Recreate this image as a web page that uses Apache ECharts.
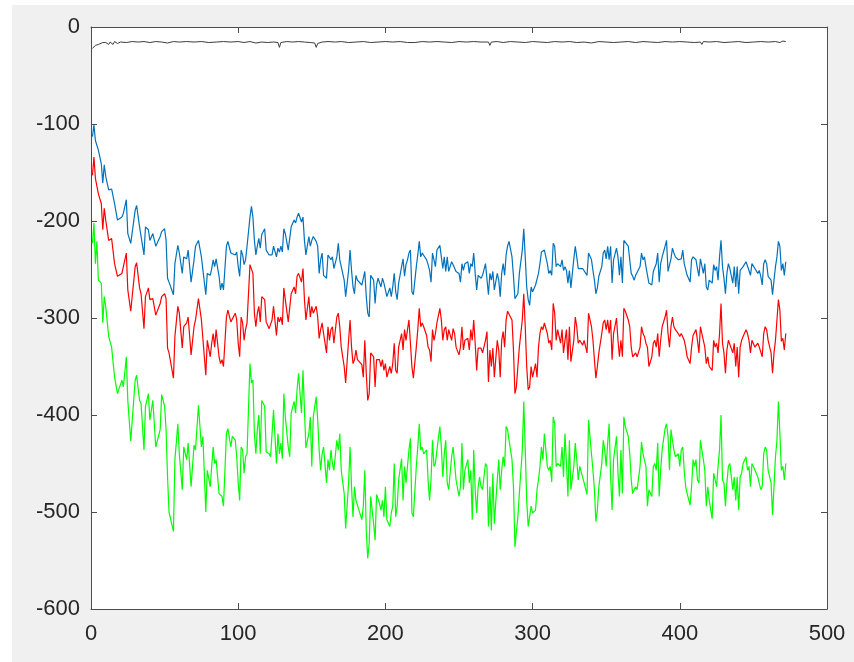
<!DOCTYPE html>
<html>
<head>
<meta charset="utf-8">
<script src="https://cdn.jsdelivr.net/npm/echarts@6/dist/echarts.min.js"></script>
<style>
  html, body { margin: 0; background: #ffffff; }
  #fig { position: absolute; left: 12px; top: 5px; width: 842px; height: 657px; background: #f0f0f0; }
</style>
</head>
<body>
<div id="fig"></div>
<script>
// Sample indices shared by the three noisy traces
const sampleIdx = [
  1,2,3,4,5,7,8,9,10,12,14,16,18,21,22,24,25,27,30,31,33,34,36,37,39,40,42,44,47,48,50,51,52,53,56,57,59,60,62,63,65,66,68,70,71,73,75,76,78,79,81,82,83,
  84,85,87,88,89,90,92,93,95,96,98,99,100,101,102,103,104,105,106,108,109,110,111,112,113,114,115,116,118,119,121,122,123,124,126,127,128,129,130,131,132,134,135,136,138,139,140,141,143,144,145,146,148,149,150,151,153,154,155,156,157,158,160,161,162,163,164,165,
  167,168,169,170,172,173,175,176,177,178,179,180,181,182,184,185,186,187,188,189,190,192,193,194,195,196,197,198,199,200,201,203,204,205,206,207,208,209,211,212,213,214,215,216,217,218,219,221,222,223,224,225,226,228,229,230,231,232,233,234,235,237,238,239,240,241,242,243,245,246,247,248,
  250,251,252,253,254,256,257,258,259,260,261,262,263,264,265,266,268,269,270,271,272,273,274,276,277,278,279,280,281,282,283,284,286,287,288,289,290,291,293,294,295,296,297,298,299,300,302,303,304,305,306,307,308,310,311,312,313,314,315,316,317,319,320,321,322,323,324,325,326,328,329,330,331,
  332,334,335,337,338,340,341,342,343,344,345,347,348,349,350,351,352,353,354,355,357,358,359,360,361,362,363,365,366,367,368,369,370,371,373,374,375,376,377,378,379,381,382,383,384,385,386,387,388,390,391,392,393,394,395,396,397,399,400,401,402,403,404,405,407,408,409,410,411,412,413,414,
  415,416,417,418,419,420,422,423,424,425,426,427,428,429,430,431,432,433,434,436,437,438,439,440,441,442,443,445,446,447,448,449,450,451,453,454,455,456,457,458,459,460,462,463,464,465,466,467,468,469,470,471,472
];

const blueVals = [
  -113,-101,-117,-116,-127,-141,-161,-142,-154,-168,-167,-182,-199,-196,-192,-178,-213,-223,-189,-184,-206,-204,-235,-206,-209,-220,-213,-226,-216,-211,-208,-220,-259,-263,-276,-244,-225,-233,-254,-237,-239,-230,-263,-240,-226,-220,-237,-235,-276,-254,-256,-249,-240,
  -247,-239,-257,-271,-264,-271,-226,-221,-233,-232,-235,-232,-247,-257,-230,-235,-245,-240,-226,-196,-185,-196,-220,-235,-226,-218,-228,-214,-208,-230,-235,-233,-235,-226,-237,-228,-232,-226,-232,-208,-213,-230,-232,-206,-199,-202,-196,-192,-201,-196,-220,-235,-216,-226,-220,-216,-221,-226,-254,-240,-233,-256,-259,-235,-237,-240,-237,-249,
  -237,-223,-240,-247,-261,-278,-251,-230,-251,-268,-275,-256,-261,-263,-266,-268,-252,-278,-295,-299,-256,-261,-285,-266,-259,-261,-268,-259,-264,-263,-278,-269,-278,-268,-254,-273,-281,-264,-247,-239,-257,-245,-240,-233,-230,-273,-276,-247,-235,-221,-237,-233,-235,-240,-245,-251,-263,-233,-240,-247,-230,-225,-237,-249,-237,-252,-237,-252,-242,-245,-244,-252,
  -254,-263,-244,-251,-244,-242,-254,-244,-247,-233,-254,-271,-256,-257,-259,-256,-244,-242,-276,-254,-261,-252,-271,-254,-261,-278,-254,-244,-256,-235,-226,-221,-237,-257,-280,-281,-275,-254,-230,-208,-237,-268,-281,-287,-268,-273,-266,-268,-254,-244,-232,-233,-230,-244,-254,-251,-256,-223,-226,-247,-244,-247,-240,-251,-247,-251,-264,-251,-269,-239,-226,-237,-249,
  -247,-249,-251,-256,-233,-240,-251,-261,-275,-269,-257,-247,-233,-230,-239,-226,-240,-226,-264,-240,-228,-237,-256,-237,-264,-220,-221,-226,-228,-254,-257,-261,-256,-257,-247,-233,-240,-237,-247,-245,-264,-266,-252,-251,-244,-233,-263,-244,-237,-226,-220,-252,-254,-239,-228,-233,-237,-240,-240,-239,-230,-244,-244,-256,-263,-240,-237,-235,-240,-249,-257,-239,
  -239,-254,-244,-268,-271,-261,-264,-245,-251,-247,-261,-237,-220,-247,-259,-275,-254,-244,-249,-264,-247,-268,-247,-275,-251,-252,-247,-242,-244,-251,-256,-244,-245,-249,-254,-251,-257,-266,-244,-240,-244,-257,-261,-276,-261,-247,-237,-221,-226,-251,-244,-256,-242
];

const redVals = [
  -153,-134,-156,-154,-172,-182,-209,-187,-199,-220,-218,-244,-257,-254,-247,-233,-271,-293,-247,-243,-269,-275,-311,-278,-269,-281,-280,-297,-285,-278,-275,-280,-331,-336,-362,-319,-288,-295,-331,-309,-305,-299,-338,-309,-302,-280,-302,-302,-359,-323,-340,-326,-316,
  -330,-312,-340,-347,-343,-350,-299,-292,-304,-302,-295,-302,-326,-340,-299,-305,-323,-312,-305,-245,-245,-254,-295,-309,-295,-288,-304,-278,-281,-304,-311,-309,-302,-288,-318,-299,-304,-299,-307,-269,-281,-304,-305,-275,-268,-275,-257,-254,-263,-249,-281,-302,-278,-299,-288,-295,-288,-299,-321,-312,-305,-316,-336,-309,-323,-312,-309,-326,
  -299,-295,-309,-330,-350,-367,-323,-302,-330,-347,-343,-333,-343,-343,-348,-361,-323,-357,-385,-378,-336,-340,-371,-343,-342,-343,-350,-343,-354,-347,-361,-350,-357,-347,-326,-354,-357,-330,-316,-333,-312,-323,-312,-302,-300,-350,-362,-330,-312,-290,-309,-305,-309,-318,-330,-333,-345,-312,-323,-316,-305,-290,-302,-323,-312,-309,-323,-312,-323,-311,-316,-330,
  -338,-330,-309,-333,-323,-321,-333,-312,-323,-302,-326,-354,-331,-330,-331,-336,-323,-314,-366,-333,-350,-331,-361,-323,-333,-361,-323,-314,-330,-302,-293,-295,-302,-333,-378,-371,-350,-330,-302,-275,-309,-350,-374,-371,-350,-361,-347,-361,-330,-316,-309,-312,-305,-316,-326,-323,-333,-285,-295,-323,-312,-326,-312,-336,-323,-312,-343,-309,-345,-323,-299,-309,-326,
  -323,-328,-323,-336,-295,-309,-323,-343,-362,-350,-336,-316,-305,-302,-312,-302,-316,-302,-343,-316,-300,-323,-340,-323,-340,-290,-293,-302,-309,-330,-340,-342,-336,-340,-330,-309,-316,-319,-326,-330,-350,-340,-326,-323,-330,-316,-340,-323,-309,-299,-292,-316,-330,-309,-299,-309,-312,-316,-319,-316,-316,-323,-330,-340,-347,-330,-318,-319,-312,-323,-336,-309,
  -309,-323,-330,-347,-340,-350,-354,-323,-330,-326,-336,-316,-285,-326,-336,-357,-333,-323,-323,-336,-326,-350,-330,-361,-330,-323,-319,-312,-316,-323,-336,-323,-323,-330,-326,-330,-330,-340,-316,-309,-312,-323,-336,-357,-336,-323,-302,-281,-292,-324,-321,-333,-316
];

const greenVals = [
  -223,-202,-244,-221,-261,-264,-305,-278,-288,-319,-330,-361,-378,-364,-371,-340,-385,-427,-364,-359,-385,-388,-436,-391,-378,-405,-385,-433,-415,-379,-391,-415,-464,-500,-520,-446,-409,-440,-477,-433,-446,-429,-474,-431,-436,-390,-433,-422,-500,-457,-474,-453,-433,
  -450,-446,-481,-482,-484,-494,-419,-414,-433,-422,-426,-443,-470,-488,-433,-436,-460,-443,-440,-347,-367,-364,-419,-440,-415,-400,-440,-385,-391,-438,-440,-443,-445,-395,-450,-419,-440,-429,-445,-378,-402,-433,-443,-398,-386,-398,-374,-357,-398,-354,-352,-434,-419,-402,-453,-402,-381,-405,-436,-457,-440,-433,-470,-446,-457,-436,-450,-457,
  -426,-436,-419,-457,-481,-517,-470,-433,-474,-505,-474,-488,-488,-498,-508,-494,-457,-519,-548,-532,-484,-512,-529,-482,-481,-491,-498,-488,-505,-474,-508,-515,-501,-494,-450,-505,-494,-467,-445,-488,-453,-470,-453,-436,-424,-501,-505,-453,-433,-409,-436,-433,-440,-436,-467,-488,-467,-426,-453,-450,-436,-412,-433,-464,-440,-426,-470,-477,-443,-433,-450,-467,
  -484,-474,-429,-477,-457,-446,-470,-457,-508,-436,-477,-501,-474,-464,-474,-477,-450,-453,-515,-474,-519,-460,-512,-467,-446,-477,-457,-443,-453,-412,-415,-426,-446,-474,-536,-536,-505,-481,-436,-386,-436,-488,-515,-515,-494,-501,-498,-477,-467,-453,-433,-446,-419,-453,-457,-453,-469,-402,-409,-453,-450,-453,-433,-464,-419,-450,-484,-426,-477,-453,-429,-446,-467,
  -453,-464,-470,-482,-405,-440,-457,-477,-510,-498,-474,-450,-426,-436,-453,-429,-409,-464,-498,-446,-422,-460,-484,-436,-481,-402,-412,-422,-440,-467,-481,-477,-474,-477,-453,-428,-440,-440,-453,-494,-477,-484,-453,-450,-457,-429,-484,-457,-436,-414,-409,-422,-457,-415,-426,-436,-443,-440,-453,-436,-433,-457,-474,-481,-493,-474,-446,-453,-446,-467,-470,-426,
  -426,-446,-457,-494,-474,-488,-507,-460,-467,-474,-453,-436,-400,-467,-470,-494,-470,-453,-450,-477,-464,-488,-464,-498,-464,-460,-450,-443,-457,-453,-474,-450,-453,-453,-464,-464,-477,-474,-440,-433,-436,-457,-470,-503,-474,-443,-426,-386,-419,-457,-453,-467,-450
];

// Near-flat reference trace just under zero
const blackIdx = [1,2,3,5,6,8,9,10,12,13,15,16,18,20,24,28,32,36,40,44,48,52,56,60,65,70,75,80,85,90,95,100,104,108,112,116,120,124,127,128,129,133,137,141,145,149,152,153,154,157,161,166,170,175,180,185,190,195,200,205,210,215,220,225,230,235,240,245,250,255,260,265,270,271,272,276,280,285,290,295,300,305,310,315,320,325,330,335,340,345,350,355,360,365,370,375,380,385,390,395,400,405,410,414,415,416,420,425,430,435,440,445,450,455,460,465,468,470,472];
const blackVals = [-22,-21,-19,-18,-17,-16,-18,-16,-18,-15.5,-18,-15,-17,-15.5,-16,-15,-15.5,-15,-16,-15,-15.5,-16.5,-15,-15.5,-15,-15.5,-15,-16,-15.5,-15,-15.5,-15,-16,-15,-16.5,-15.5,-16,-15.5,-16,-21,-16,-15,-15.5,-15,-15.5,-16,-16.5,-21,-17,-15.5,-15,-15.5,-15,-16,-15.5,-15,-16,-15.5,-15,-15.5,-15,-16,-16,-15,-15.5,-15,-15.5,-16,-15,-15.5,-15,-15.5,-15.5,-19,-15.5,-15,-16,-15,-15.5,-16,-15,-15.5,-16,-15,-15.5,-15,-16,-15.5,-16.5,-15,-15.5,-16,-15.5,-15,-16,-15,-15.5,-16,-15,-15.5,-15,-15.5,-16,-15.5,-18,-15,-15.5,-15,-16,-15.5,-15,-16,-15.5,-15,-15.5,-15,-16,-14.5,-15];

const xTicks = { min: 0, max: 500, step: 100 };
const yTicks = { min: -600, max: 0, step: 100 };

const zip = (xs, ys) => xs.map((x, i) => [x, ys[i]]);

const frameColor = '#4d4d4d';
const textColor = '#262626';
const labelFont = { fontFamily: 'Liberation Sans, Arial, Helvetica, sans-serif', fontSize: 22, color: textColor };

function xAxisDef(pos, showLabels) {
  return {
    type: 'value', position: pos, min: xTicks.min, max: xTicks.max, interval: xTicks.step,
    axisLine: { show: true, onZero: false, lineStyle: { color: frameColor, width: 1 } },
    axisTick: { show: true, inside: true, length: 6, lineStyle: { color: frameColor } },
    axisLabel: Object.assign({ show: showLabels, margin: 14 }, labelFont),
    splitLine: { show: false }
  };
}
function yAxisDef(pos, showLabels) {
  return {
    type: 'value', position: pos, min: yTicks.min, max: yTicks.max, interval: yTicks.step,
    axisLine: { show: true, onZero: false, lineStyle: { color: frameColor, width: 1 } },
    axisTick: { show: true, inside: true, length: 6, lineStyle: { color: frameColor } },
    axisLabel: Object.assign({ show: showLabels, margin: 11 }, labelFont),
    splitLine: { show: false }
  };
}

function lineSeries(data, color, width) {
  return {
    type: 'line', data: data, showSymbol: false, symbol: 'none',
    lineStyle: { color: color, width: width }, itemStyle: { color: color },
    animation: false, silent: true
  };
}

const chart = echarts.init(document.getElementById('fig'), null, { renderer: 'canvas' });
chart.setOption({
  backgroundColor: '#f0f0f0',
  animation: false,
  grid: { left: 79, top: 22, width: 736, height: 582, show: true, backgroundColor: '#ffffff', borderWidth: 0 },
  xAxis: [xAxisDef('bottom', true), xAxisDef('top', false)],
  yAxis: [yAxisDef('left', true), yAxisDef('right', false)],
  series: [
    lineSeries(zip(blackIdx, blackVals), '#3c3c3c', 1),
    lineSeries(zip(sampleIdx, blueVals), '#0072BD', 1.2),
    lineSeries(zip(sampleIdx, redVals), '#FF0000', 1.2),
    lineSeries(zip(sampleIdx, greenVals), '#00FF00', 1.2)
  ]
});
</script>
</body>
</html>
